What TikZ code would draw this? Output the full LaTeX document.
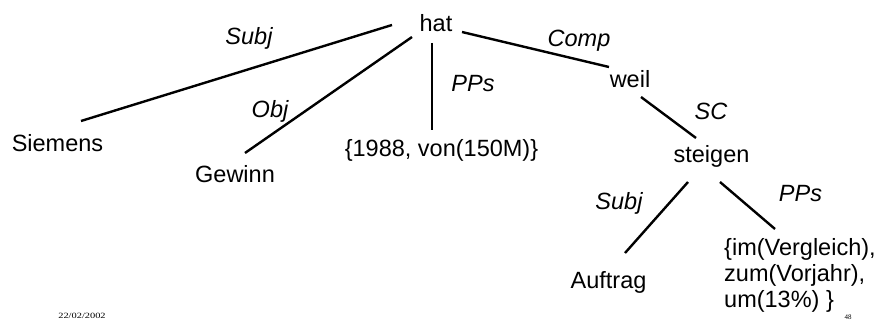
\documentclass[tikz,border=0pt]{standalone}
\usepackage{fontspec}
\setmainfont{Liberation Sans}
\newfontfamily\footfont{Liberation Serif}
\usetikzlibrary{calc}

\tikzset{
  word/.style={inner sep=0pt, anchor=base, font=\fontsize{23.5}{26}\selectfont},
  rel/.style={inner sep=0pt, anchor=base, font=\fontsize{23.5}{26}\selectfont\itshape},
  edge/.style={line width=2.4pt},
  foot/.style={inner sep=0pt, anchor=base, font=\fontsize{8}{9}\selectfont\footfont}
}

\begin{document}
\begin{tikzpicture}[x=1pt, y=-1pt]
  \path[use as bounding box, fill=white] (0,0) rectangle (882,320);

  % words of the dependency tree
  \node[word] (hat)     at (436,32)    {hat};
  \node[word] (siemens) at (57.5,152)  {Siemens};
  \node[word] (gewinn)  at (235,183)   {Gewinn};
  \node[word] (pp1)     at (441.5,157) {\{1988, von(150M)\}};
  \node[word] (weil)    at (630,88)    {weil};
  \node[word] (steigen) at (711.5,163) {steigen};
  \node[word] (auftrag) at (608.5,288) {Auftrag};
  % the base of a multi-line node is the baseline of its last line
  \node[word, anchor=base west, align=left] (pp2) at (724,307)
    {\{im(Vergleich),\\zum(Vorjahr),\\um(13\%) \}};

  % relation labels
  \node[rel] (lsubj)  at (249,45)    {Subj};
  \node[rel] (lobj)   at (270,118)   {Obj};
  \node[rel] (lpps)   at (473,92)    {PPs};
  \node[rel] (lcomp)  at (579,47)    {Comp};
  \node[rel] (lsc)    at (711,120)   {SC};
  \node[rel] (lsubj2) at (619,210)   {Subj};
  \node[rel] (lpps2)  at (800.5,202) {PPs};

  % dependency edges
  \draw[edge] ($(hat.base)+(-44,-7)$)    -- ($(siemens.base)+(23.5,-31)$);
  \draw[edge] ($(hat.base)+(-24,5)$)     -- ($(gewinn.base)+(10,-30)$);
  \draw[edge] ($(hat.base)+(-4,11)$)     -- ($(pp1.base)+(-9.5,-27)$);
  \draw[edge] ($(hat.base)+(26,0)$)      -- ($(weil.base)+(-21,-21)$);
  \draw[edge] ($(weil.base)+(11,9)$)     -- ($(steigen.base)+(-15.5,-25)$);
  \draw[edge] ($(steigen.base)+(-23.5,19)$) -- ($(auftrag.base)+(16.5,-35)$);
  \draw[edge] ($(steigen.base)+(8.5,19)$)   -- ($(pp2.base west)+(51,-78)$);

  % footer
  \node[foot, xscale=1.3] (date) at (82,318.5) {22/02/2002};
  \node[foot, font=\fontsize{7}{8}\selectfont\footfont] (page) at (848,319) {48};
\end{tikzpicture}
\end{document}
